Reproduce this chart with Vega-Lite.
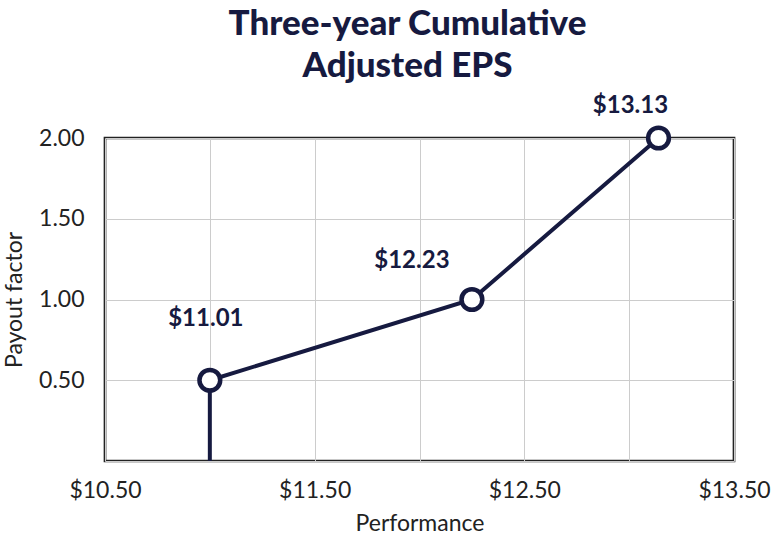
{
  "$schema": "https://vega.github.io/schema/vega-lite/v6.json",
  "width": 629,
  "height": 323,
  "padding": {"left": 3, "top": 7, "right": 35, "bottom": 3},
  "background": "white",
  "title": {
    "text": ["Three-year Cumulative", "Adjusted EPS"],
    "fontSize": 35,
    "lineHeight": 42,
    "font": "Lato",
    "fontWeight": 900,
    "color": "#161a40",
    "anchor": "middle",
    "dx": -12,
    "offset": 10
  },
  "config": {
    "view": {"stroke": "#222222", "strokeWidth": 2.7},
    "axis": {
      "labelFont": "Lato",
      "titleFont": "Lato",
      "labelFontSize": 23,
      "titleFontSize": 23,
      "labelColor": "#222222",
      "titleColor": "#222222",
      "titleFontWeight": "normal",
      "gridColor": "#cccccc",
      "gridWidth": 1,
      "ticks": false,
      "domain": false,
      "labelPadding": 21
    }
  },
  "data": {
    "values": [
      {"eps": 11.0, "payout": 0.5, "label": "$11.01"},
      {"eps": 12.25, "payout": 1.0, "label": "$12.23"},
      {"eps": 13.14, "payout": 2.0, "label": "$13.13"}
    ]
  },
  "encoding": {
    "x": {
      "field": "eps",
      "type": "quantitative",
      "title": "Performance",
      "scale": {"domain": [10.5, 13.5], "nice": false, "zero": false},
      "axis": {
        "values": [10.5, 11, 11.5, 12, 12.5, 13, 13.5],
        "labelExpr": "(datum.value == 10.5 || datum.value == 11.5 || datum.value == 12.5 || datum.value == 13.5) ? '$' + format(datum.value, '.2f') : ''",
        "titlePadding": 10,
        "labelPadding": 18,
        "labelFlush": false
      }
    },
    "y": {
      "field": "payout",
      "type": "quantitative",
      "title": "Payout factor",
      "scale": {"domain": [0, 2], "nice": false},
      "axis": {
        "values": [0, 0.5, 1, 1.5, 2],
        "labelExpr": "datum.value == 0 ? '' : format(datum.value, '.2f')",
        "titlePadding": 12,
        "labelFlush": false
      }
    }
  },
  "layer": [
    {
      "transform": [{"filter": "datum.payout == 0.5"}],
      "mark": {"type": "rule", "color": "#161a40", "strokeWidth": 4},
      "encoding": {"y2": {"datum": 0}}
    },
    {
      "mark": {"type": "line", "color": "#161a40", "strokeWidth": 4},
      "encoding": {}
    },
    {
      "mark": {"type": "point", "filled": true, "fill": "white", "stroke": "#161a40", "strokeWidth": 4.5, "size": 430, "opacity": 1},
      "encoding": {}
    },
    {
      "transform": [{"filter": "datum.payout == 0.5"}],
      "mark": {"type": "text", "font": "Lato", "fontWeight": "bold", "fontSize": 24, "color": "#161a40", "dx": -4, "dy": -61},
      "encoding": {"text": {"field": "label"}}
    },
    {
      "transform": [{"filter": "datum.payout == 1"}],
      "mark": {"type": "text", "font": "Lato", "fontWeight": "bold", "fontSize": 24, "color": "#161a40", "dx": -60, "dy": -39},
      "encoding": {"text": {"field": "label"}}
    },
    {
      "transform": [{"filter": "datum.payout == 2"}],
      "mark": {"type": "text", "font": "Lato", "fontWeight": "bold", "fontSize": 24, "color": "#161a40", "dx": -28, "dy": -32},
      "encoding": {"text": {"field": "label"}}
    }
  ]
}
